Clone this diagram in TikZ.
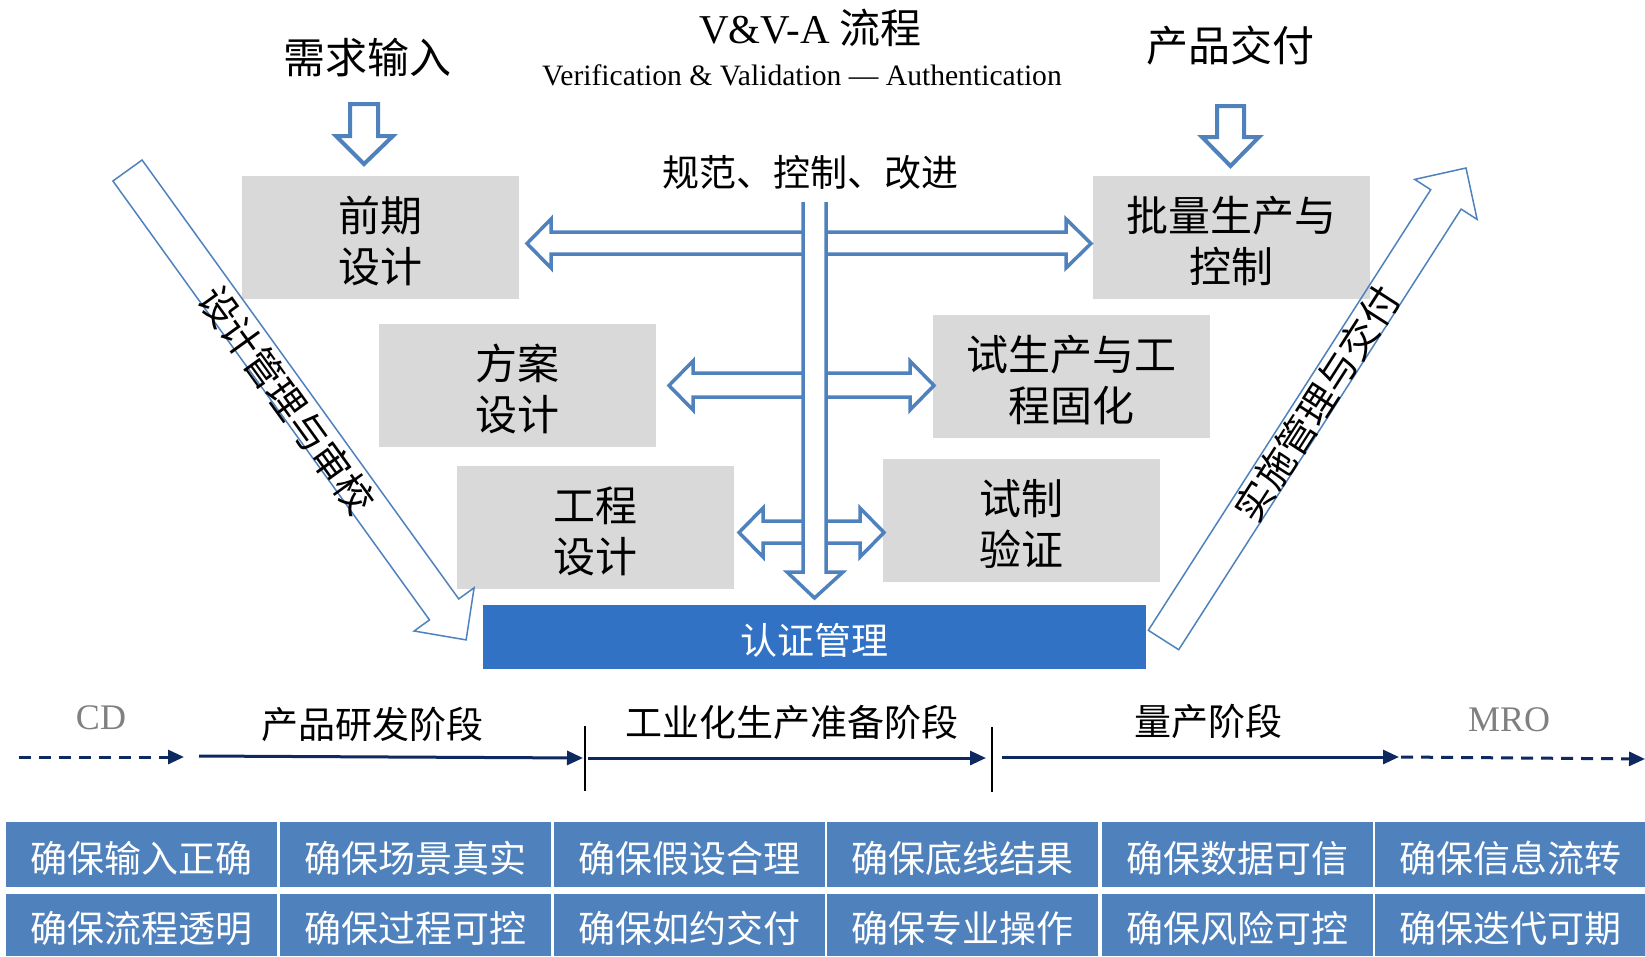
\documentclass[tikz,border=0pt]{standalone}
\usepackage{fontspec}
\setmainfont{Liberation Serif}
\newfontfamily\cjk{Noto Sans CJK SC}
\usetikzlibrary{arrows.meta}
\definecolor{arrowblue}{RGB}{79,129,189}
\definecolor{cellblue}{RGB}{79,129,189}
\definecolor{certblue}{RGB}{50,114,196}
\definecolor{boxgray}{RGB}{217,217,217}
\definecolor{navy}{RGB}{14,40,96}
\definecolor{labelgray}{RGB}{128,128,128}
\newcommand{\dn}[1]{\raisebox{-3.5pt}[\height][\depth]{#1}}
\begin{document}
\begin{tikzpicture}[x=1pt,y=-1pt,
  gbox/.style={fill=boxgray, inner sep=0pt, minimum width=277pt, minimum height=123pt, align=center, font=\cjk\fontsize{42}{51}\selectfont},
  hollow/.style={draw=arrowblue, line width=3.5pt, line join=miter, fill=white},
  diag/.style={draw=arrowblue, line width=1.5pt, line join=miter},
  difftext/.style={inner sep=0pt, font=\cjk\fontsize{38.5}{38.5}\selectfont},
  toptext/.style={inner sep=0pt, font=\cjk\fontsize{42}{42}\selectfont},
  phase/.style={inner sep=0pt, font=\cjk\fontsize{37}{37}\selectfont},
  latinphase/.style={inner sep=0pt, text=labelgray, font=\fontsize{36}{36}\selectfont},
  tline/.style={draw=navy, line width=3pt, -{Triangle[length=16pt,width=14pt]}},
  dline/.style={tline, dash pattern=on 12pt off 8pt},
  sepline/.style={draw=black, line width=1.3pt},
  cell/.style={fill=cellblue, text=white, inner sep=0pt, minimum width=271pt, minimum height=65pt, font=\cjk\fontsize{37}{37}\selectfont},
  cellb/.style={cell, minimum height=62pt}
]
\useasboundingbox (0,0) rectangle (1645,956);

% titles
\node[inner sep=0pt, anchor=base, font=\fontsize{41}{41}\selectfont] (title) at (810.5,43) {V\&V-A {\cjk 流程}};
\node[inner sep=0pt, anchor=base, font=\fontsize{29.6}{29.6}\selectfont] (subtitle) at (802,85) {Verification \& Validation — Authentication};
\node[toptext] (req) at (367,58) {需求输入};
\node[toptext] (deliv) at (1230.5,45) {产品交付};
\node[phase] (norm) at (810.5,172) {规范、控制、改进};

% down arrows
\draw[hollow, line width=4pt] (350,104) -- (350,136) -- (336,136) -- (364,164) -- (393,136) -- (378,136) -- (378,104) -- cycle;
\draw[hollow, line width=4pt] (1217,106) -- (1217,137) -- (1202,137) -- (1230.5,166) -- (1259,137) -- (1244,137) -- (1244,106) -- cycle;

% gray boxes
\node[gbox] (pre) at (380.5,237.5) {\dn{前期}\\\dn{设计}};
\node[gbox] (mass) at (1231.5,237.5) {\dn{批量生产与}\\\dn{控制}};
\node[gbox] (scheme) at (517,385.5) {\dn{方案}\\\dn{设计}};
\node[gbox] (trial) at (1071,376.5) {\dn{试生产与工}\\\dn{程固化}};
\node[gbox] (eng) at (595.5,527.5) {\dn{工程}\\\dn{设计}};
\node[gbox] (proto) at (1021,520.5) {\dn{试制}\\\dn{验证}};

% certification bar
\node[fill=certblue, text=white, inner sep=0pt, minimum width=663pt, minimum height=64pt, font=\cjk\fontsize{37}{37}\selectfont] (cert) at (814.5,637) {\dn{认证管理}};

% central spine
\draw[hollow, fill=none] (803,202) -- (803,572) -- (787,572) -- (814.5,598) -- (843,572) -- (826,572) -- (826,202);
% level 1
\draw[hollow, fill=none] (803,232) -- (551,232) -- (551,219) -- (527,243.5) -- (551,268) -- (551,254) -- (803,254);
\draw[hollow, fill=none] (826,232) -- (1066,232) -- (1066,219) -- (1091,243.5) -- (1066,268) -- (1066,254) -- (826,254);
% level 2
\draw[hollow, fill=none] (803,373) -- (693,373) -- (693,361) -- (669,385.5) -- (693,410) -- (693,397) -- (803,397);
\draw[hollow, fill=none] (826,373) -- (910,373) -- (910,361) -- (934,385.5) -- (910,410) -- (910,397) -- (826,397);
% level 3
\draw[hollow, fill=none] (803,521) -- (763,521) -- (763,508) -- (739,532.5) -- (763,557) -- (763,543) -- (803,543);
\draw[hollow, fill=none] (826,521) -- (860,521) -- (860,508) -- (884,532.5) -- (860,557) -- (860,543) -- (826,543);

% diagonal arrows
\draw[diag] (112.9,181.0) -- (429.5,619.9) -- (414.1,631.0) -- (466.1,639.9) -- (474.1,587.8) -- (458.7,598.9) -- (142.1,160.0) -- cycle;
\node[difftext, rotate=-54.2] (lefttxt) at (287,400) {设计管理与审校};
\draw[diag] (1148.3,630.3) -- (1430.7,189.7) -- (1414.7,179.4) -- (1466,168) -- (1477.1,219.4) -- (1461.1,209.1) -- (1178.7,649.7) -- cycle;
\node[difftext, rotate=57.3] (righttxt) at (1317,404) {实施管理与交付};

% timeline
\coordinate (cd0) at (19,757);
\coordinate (cd1) at (184,757);
\coordinate (s1a) at (199,756);
\coordinate (s1b) at (583,758);
\coordinate (s2a) at (588,758);
\coordinate (s2b) at (986,758);
\coordinate (s3a) at (1002,757);
\coordinate (s3b) at (1399,757);
\coordinate (m0) at (1401,757);
\coordinate (m1) at (1645,759);
\draw[dline] (cd0) -- (cd1);
\draw[tline] (s1a) -- (s1b);
\draw[tline] (s2a) -- (s2b);
\draw[tline] (s3a) -- (s3b);
\draw[dline] (m0) -- (m1);
\coordinate (sep1a) at (585,726);
\coordinate (sep1b) at (585,791);
\coordinate (sep2a) at (992,727);
\coordinate (sep2b) at (992,792);
\draw[sepline] (sep1a) -- (sep1b);
\draw[sepline] (sep2a) -- (sep2b);

\node[latinphase] (cd) at (101,718) {CD};
\node[phase] (ph1) at (372,724) {产品研发阶段};
\node[phase] (ph2) at (792,722) {工业化生产准备阶段};
\node[phase] (ph3) at (1208,721) {量产阶段};
\node[latinphase] (mro) at (1509,720) {MRO};

% table
\node[cell] (c11) at (141.5,854.5) {\dn{确保输入正确}};
\node[cell] (c12) at (415.5,854.5) {\dn{确保场景真实}};
\node[cell] (c13) at (689,854.5) {\dn{确保假设合理}};
\node[cell] (c14) at (962.5,854.5) {\dn{确保底线结果}};
\node[cell] (c15) at (1237,854.5) {\dn{确保数据可信}};
\node[cell] (c16) at (1510.5,854.5) {\dn{确保信息流转}};
\node[cellb] (c21) at (141.5,925) {\dn{确保流程透明}};
\node[cellb] (c22) at (415.5,925) {\dn{确保过程可控}};
\node[cellb] (c23) at (689,925) {\dn{确保如约交付}};
\node[cellb] (c24) at (962.5,925) {\dn{确保专业操作}};
\node[cellb] (c25) at (1237,925) {\dn{确保风险可控}};
\node[cellb] (c26) at (1510.5,925) {\dn{确保迭代可期}};
\end{tikzpicture}
\end{document}
